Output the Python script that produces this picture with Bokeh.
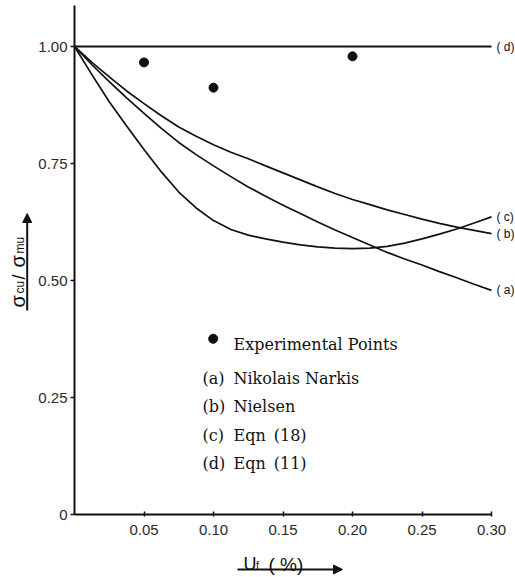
import math
from bokeh.plotting import figure
from bokeh.models import Range1d, FixedTicker, Label, Arrow, NormalHead
from bokeh.embed import file_html
from bokeh.resources import INLINE

# ---------------- data ----------------
uf = [0.0, 0.0125, 0.025, 0.0375, 0.05, 0.0625, 0.075, 0.0875, 0.10, 0.1125, 0.125, 0.1375,
      0.15, 0.1625, 0.175, 0.1875, 0.20, 0.2125, 0.225, 0.2375, 0.25, 0.2625, 0.275, 0.2875, 0.30]
nikolais_narkis = [1.0, 0.961, 0.925, 0.890, 0.857, 0.825, 0.795, 0.769, 0.745, 0.722, 0.700, 0.680,
                   0.661, 0.643, 0.625, 0.608, 0.592, 0.576, 0.560, 0.546, 0.533, 0.519, 0.506, 0.492, 0.479]
nielsen = [1.0, 0.966, 0.935, 0.905, 0.878, 0.852, 0.828, 0.808, 0.790, 0.774, 0.760, 0.745,
           0.730, 0.715, 0.700, 0.686, 0.673, 0.662, 0.651, 0.641, 0.631, 0.622, 0.614, 0.607, 0.600]
eqn18 = [1.0, 0.940, 0.882, 0.830, 0.780, 0.732, 0.689, 0.655, 0.628, 0.609, 0.597, 0.589,
         0.582, 0.576, 0.572, 0.569, 0.568, 0.569, 0.573, 0.580, 0.589, 0.599, 0.610, 0.623, 0.636]
eqn11 = [1.0] * 25

exp_x = [0.05, 0.10, 0.20]
exp_y = [0.966, 0.912, 0.979]

curve_tags = ["( a)", "( b)", "( c)", "( d)"]
legend_tags = ["(a)", "(b)", "(c)", "(d)"]
legend_names = ["Nikolais Narkis", "Nielsen", "Eqn\u2002(18)", "Eqn\u2002(11)"]
legend_points = "Experimental Points"

x_ticks = [0.05, 0.10, 0.15, 0.20, 0.25, 0.30]
x_tick_labels = ["0.05", "0.10", "0.15", "0.20", "0.25", "0.30"]
y_ticks = [0.0, 0.25, 0.50, 0.75, 1.00]
y_tick_labels = ["0", "0.25", "0.50", "0.75", "1.00"]

# ---------------- layout ----------------
W, H = 515, 577
X0, Y0 = 74, 514          # pixel position of the data origin
XPP = 0.05 / 69.5         # data units per pixel (x)
YPP = 0.25 / 117.0        # data units per pixel (y)

def px(xp):
    return (xp - X0) * XPP

def py(yp):
    return (Y0 - yp) * YPP

INK = "#111111"
SANS = "Liberation Sans"
SERIF = "DejaVu Serif"

p = figure(width=W, height=H, output_backend="svg", toolbar_location=None,
           x_range=Range1d(px(0), px(W)), y_range=Range1d(py(H), py(0)),
           min_border=0, min_border_left=0, min_border_right=0,
           min_border_top=0, min_border_bottom=0)
p.grid.visible = False
p.outline_line_color = None
p.background_fill_color = "white"
p.border_fill_color = "white"

for ax in (p.xaxis[0], p.yaxis[0]):
    ax.fixed_location = 0
    ax.axis_line_width = 2
    ax.axis_line_color = INK
    ax.major_tick_line_color = INK
    ax.major_tick_line_width = 1.5
    ax.minor_tick_line_color = None
    ax.major_label_text_font = SANS
    ax.major_label_text_font_size = "15px"
    ax.major_label_text_color = "#2a2a2a"

p.xaxis.ticker = FixedTicker(ticks=x_ticks)
p.xaxis.major_label_overrides = dict(zip(x_ticks, x_tick_labels))
p.xaxis.bounds = (0, 0.30)
p.xaxis.major_tick_in = 3
p.xaxis.major_tick_out = 2
p.xaxis.major_label_standoff = 8

p.yaxis.ticker = FixedTicker(ticks=y_ticks)
p.yaxis.major_label_overrides = dict(zip(y_ticks, y_tick_labels))
p.yaxis.bounds = (0, py(5))
p.yaxis.major_tick_in = 0
p.yaxis.major_tick_out = 4
p.yaxis.major_label_standoff = 3

# curves
for ys, w in ((nikolais_narkis, 1.7), (nielsen, 1.7), (eqn18, 1.7), (eqn11, 2.0)):
    p.line(uf, ys, line_color=INK, line_width=w, line_join="round")

p.scatter(exp_x, exp_y, size=9, color=INK)

# curve end tags
for ys, tag in zip((nikolais_narkis, nielsen, eqn18, eqn11), curve_tags):
    p.add_layout(Label(x=uf[-1], y=ys[-1], x_offset=5, text=tag,
                       text_baseline="middle", text_align="left",
                       text_font=SANS, text_font_size="12px", text_color=INK))

# legend (drawn by hand)
p.scatter([px(212.7)], [py(338.3)], size=9, color=INK)
p.add_layout(Label(x=px(233), y=py(344), text=legend_points, text_font=SERIF,
                   text_font_size="16px", text_color=INK, text_baseline="alphabetic"))
baselines = [378, 406, 435, 463]
for tag, name, b in zip(legend_tags, legend_names, baselines):
    p.add_layout(Label(x=px(202), y=py(b), text=tag, text_font=SERIF,
                       text_font_size="16px", text_color=INK, text_baseline="alphabetic"))
    p.add_layout(Label(x=px(233), y=py(b), text=name, text_font=SERIF,
                       text_font_size="16px", text_color=INK, text_baseline="alphabetic"))

# y axis title: sigma_cu / sigma_mu, rotated
rot = math.pi / 2
ylab = [("\u03c3", 17.5, 307, "20px"), ("cu", 19.5, 293, "12px"), ("/", 18.0, 279, "18px"),
        ("\u03c3", 17.5, 267, "20px"), ("mu", 19.5, 253, "12px")]
for t, xx, yy, fs in ylab:
    p.add_layout(Label(x=px(xx), y=py(yy), text=t, angle=rot, text_font=SANS,
                       text_font_size=fs, text_color=INK, text_align="left",
                       text_baseline="alphabetic"))
p.add_layout(Arrow(x_start=px(26.7), y_start=py(310), x_end=px(26.7), y_end=py(213),
                   line_width=2, line_color=INK,
                   end=NormalHead(size=9, fill_color=INK, line_color=INK)))

# x axis title: U_f ( %)
xlab = [("U", 243, 563, "18px"), ("f", 255.5, 564, "11px"), ("( %)", 268, 564, "19px")]
for t, xx, yy, fs in xlab:
    p.add_layout(Label(x=px(xx), y=py(yy), text=t, text_font=SANS, text_font_size=fs,
                       text_color=INK, text_align="left", text_baseline="alphabetic"))
p.add_layout(Arrow(x_start=px(237), y_start=py(569), x_end=px(342), y_end=py(569),
                   line_width=2, line_color=INK,
                   end=NormalHead(size=9, fill_color=INK, line_color=INK)))

open("out.html", "w").write(file_html(p, INLINE))
